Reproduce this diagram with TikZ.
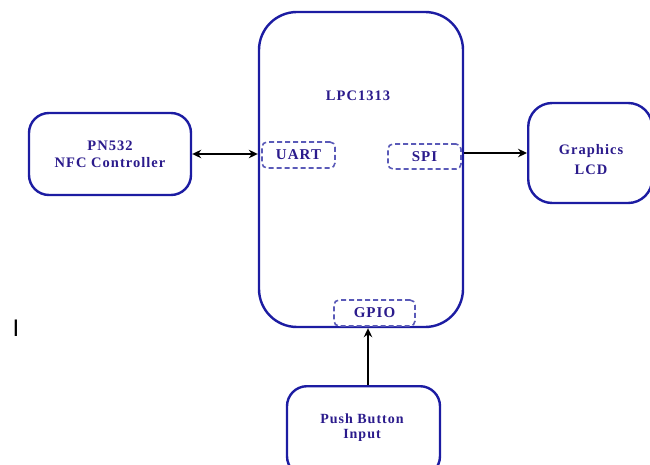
\documentclass[tikz,border=0pt]{standalone}
\usepackage{fontspec}
\setmainfont{Liberation Serif}
\newfontfamily\strayfont{Liberation Sans}
\newfontfamily\wideserif[LetterSpace=7]{Liberation Serif}
\usetikzlibrary{arrows.meta,positioning}
\definecolor{bnavy}{HTML}{1C1CA2}
\definecolor{tnavy}{HTML}{2B1B8C}
\definecolor{dashb}{HTML}{5A5AB8}
\tikzset{
  % solid blocks: white fill, thick navy stroke
  blk/.style   = {rectangle, rounded corners=#1, draw=bnavy, fill=white, line width=2.4pt,
                  align=center, text=tnavy, font=\wideserif\fontsize{14.5}{17}\selectfont\bfseries},
  blk/.default = 20pt,
  port/.style  = {rectangle, rounded corners=5pt, draw=dashb, dashed, line width=1.6pt,
                  dash pattern=on 5pt off 3pt, fill=white, text=tnavy,
                  font=\wideserif\fontsize{15}{17}\selectfont\bfseries, inner sep=2pt},
  lbl/.style   = {text=tnavy, align=center, font=\wideserif\fontsize{14.5}{17}\selectfont\bfseries},
  arr/.style   = {-{Stealth[length=9pt,width=8.5pt]}, line width=1.4pt, black},
}
\begin{document}
\begin{tikzpicture}[x=1pt,y=-1pt]
\clip (0,0) rectangle (650,465);
% main controller block with its three ports
\node[blk=38pt, minimum width=204pt, minimum height=315pt] (lpc) at (361,169.5) {};
\node[lbl] (lpcname) at (358,96) {LPC1313};
\node[port, minimum width=73pt, minimum height=26pt] (uart) at (298.5,155) {UART};
\node[port, minimum width=73pt, minimum height=25pt] (spi) at (424.5,156.5) {SPI};
\node[port, minimum width=81pt, minimum height=26pt] (gpio) at (374.5,313) {GPIO};

% peripherals
\node[blk, minimum width=162pt, minimum height=82pt] (nfc) at (110,154) {PN532\\NFC Controller};
\node[blk=24pt, minimum width=124pt, minimum height=100pt, anchor=west] (lcd) at (527,153) {};
\node[lbl, font=\wideserif\fontsize{14.5}{20}\selectfont\bfseries] (lcdtext) at (591,160) {Graphics\\LCD};
\node[blk, minimum width=153pt, minimum height=90pt, anchor=north] (btn) at (363.5,385) {};
\node[lbl, font=\wideserif\fontsize{14}{15}\selectfont\bfseries] (btntext) at (362,428) {Push Button\\Input};

% links
\draw[arr, {Stealth[length=9pt,width=8.5pt]}-{Stealth[length=9pt,width=8.5pt]}] (nfc.east) -- (lpc.west |- nfc.east);
\draw[arr] (lpc.east |- lcd.west) -- (lcd.west);
\coordinate (btnin) at (btn.north -| 368,0);
\draw[arr] (btnin) -- (btnin |- lpc.south);

\node[font=\strayfont\fontsize{24}{24}\selectfont, text=black] (stray) at (16,328) {I};
\end{tikzpicture}
\end{document}
